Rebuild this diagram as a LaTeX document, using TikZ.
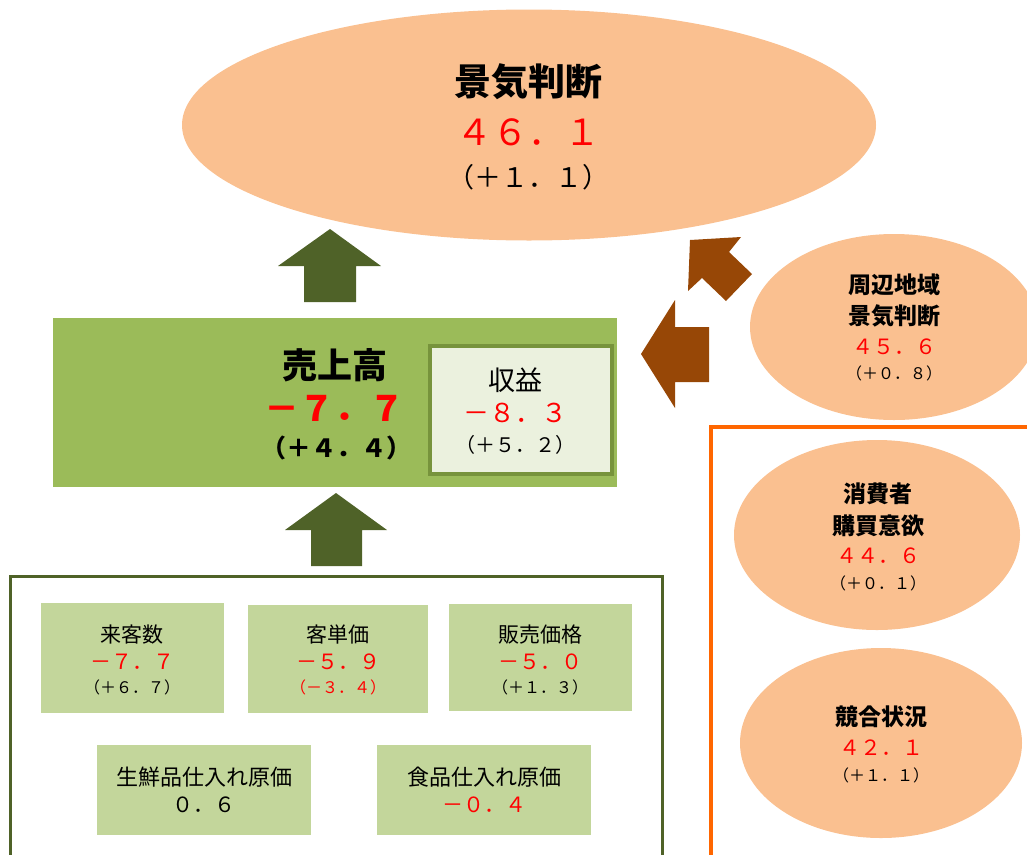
\documentclass[tikz,border=0pt]{standalone}
\usepackage{fontspec}
\setmainfont{Noto Sans CJK JP}
\usetikzlibrary{shapes}
\definecolor{bubble}{HTML}{FAC090}
\definecolor{salesgreen}{HTML}{9BBB59}
\definecolor{profitfill}{HTML}{EBF1DE}
\definecolor{profitline}{HTML}{77933C}
\definecolor{itemfill}{HTML}{C3D69B}
\definecolor{darkolive}{HTML}{4F6228}
\definecolor{rust}{HTML}{974706}
\definecolor{frameorange}{HTML}{FF6600}
\tikzset{
  bubble/.style={ellipse, fill=bubble, inner sep=0},
  itembox/.style={rectangle, fill=itemfill, inner sep=0, anchor=north west},
  txt/.style={inner sep=0, font=\fontsize{#1}{#1}\selectfont},
  btxt/.style={inner sep=0, font=\fontsize{#1}{#1}\selectfont\bfseries},
  val/.style={text=red}
}
\begin{document}
\begin{tikzpicture}[x=1pt,y=-1pt]
  \useasboundingbox (0,0) rectangle (1027,854);

  % overall judgement
  \node[bubble, minimum width=694pt, minimum height=231pt] (judge) at (529,125) {};
  \node[btxt=37] (judget) at (528,82) {景気判断};
  \node[txt=36, val] (judgev) at (528,132) {４６．１};
  \node[txt=27] (judged) at (528,177) {（＋１．１）};

  % arrows up
  \fill[darkolive] (330,229) -- (381,266) -- (356,266) -- (356,302) -- (304,302) -- (304,266) -- (278,266) -- cycle;
  \fill[darkolive] (336,493) -- (387,530) -- (362,530) -- (362,566) -- (311,566) -- (311,530) -- (285,530) -- cycle;

  % sales
  \node[rectangle, fill=salesgreen, inner sep=0, anchor=north west,
        minimum width=564pt, minimum height=169pt] (sales) at (53,318) {};
  \node[btxt=35] (salest) at (335,365) {売上高};
  \node[btxt=35, val] (salesv) at (334,408) {－７．７};
  \node[btxt=25] (salesd) at (336,448) {（＋４．４）};

  \node[rectangle, fill=profitfill, draw=profitline, line width=4pt, inner sep=0,
        anchor=north west, minimum width=182pt, minimum height=128pt] (profit) at (428,344) {};
  \node[txt=27] (profitt) at (515,380) {収益};
  \node[txt=26, val] (profitv) at (515,413) {－８．３};
  \node[txt=20] (profitd) at (515,445) {（＋５．２）};

  % factors of sales
  \draw[darkolive, line width=3pt] (10,858) -- (10,576) -- (662,576) -- (662,858);

  \node[itembox, minimum width=183pt, minimum height=110pt] (visit) at (41,603) {};
  \node[txt=21] (visitt) at (132,635) {来客数};
  \node[txt=21, val] (visitv) at (132,662) {－７．７};
  \node[txt=16] (visitd) at (132,687) {（＋６．７）};

  \node[itembox, minimum width=180pt, minimum height=108pt] (unit) at (248,605) {};
  \node[txt=21] (unitt) at (338,635) {客単価};
  \node[txt=21, val] (unitv) at (338,662) {－５．９};
  \node[txt=16, val] (unitd) at (338,687) {（－３．４）};

  \node[itembox, minimum width=183pt, minimum height=107pt] (price) at (449,604) {};
  \node[txt=21] (pricet) at (540,635) {販売価格};
  \node[txt=21, val] (pricev) at (540,662) {－５．０};
  \node[txt=16] (priced) at (540,687) {（＋１．３）};

  \node[itembox, minimum width=214pt, minimum height=90pt] (fresh) at (97,745) {};
  \node[txt=22] (fresht) at (204,777) {生鮮品仕入れ原価};
  \node[txt=21] (freshv) at (204,805) {０．６};

  \node[itembox, minimum width=214pt, minimum height=90pt] (food) at (377,745) {};
  \node[txt=22] (foodt) at (484,777) {食品仕入れ原価};
  \node[txt=21, val] (foodv) at (484,805) {－０．４};

  % arrows from the right
  \fill[rust] (641,354) -- (675,300) -- (675,327) -- (709,327) -- (709,382) -- (675,382) -- (675,408) -- cycle;
  \fill[rust] (690,240) -- (741,237) -- (729,252) -- (752,274) -- (726,301) -- (702,278) -- (688,291) -- cycle;

  % region
  \node[bubble, minimum width=288pt, minimum height=186pt] (region) at (894,327) {};
  \node[btxt=23] (regiont) at (894,285) {周辺地域};
  \node[btxt=23] (regionu) at (894,316) {景気判断};
  \node[txt=21, val] (regionv) at (894,347) {４５．６};
  \node[txt=16] (regiond) at (894,373) {（＋０．８）};

  % outside factors
  \draw[frameorange, line width=4.5pt] (1031,427) -- (711,427) -- (711,858);

  \node[bubble, minimum width=286pt, minimum height=190pt] (consumer) at (877,535) {};
  \node[btxt=23] (consumert) at (878,494) {消費者};
  \node[btxt=23] (consumeru) at (878,526) {購買意欲};
  \node[txt=21, val] (consumerv) at (878,556) {４４．６};
  \node[txt=16] (consumerd) at (878,583) {（＋０．１）};

  \node[bubble, minimum width=282pt, minimum height=190pt] (rival) at (881,743) {};
  \node[btxt=23] (rivalt) at (881,717) {競合状況};
  \node[txt=21, val] (rivalv) at (881,748) {４２．１};
  \node[txt=16] (rivald) at (881,775) {（＋１．１）};

\end{tikzpicture}
\end{document}
